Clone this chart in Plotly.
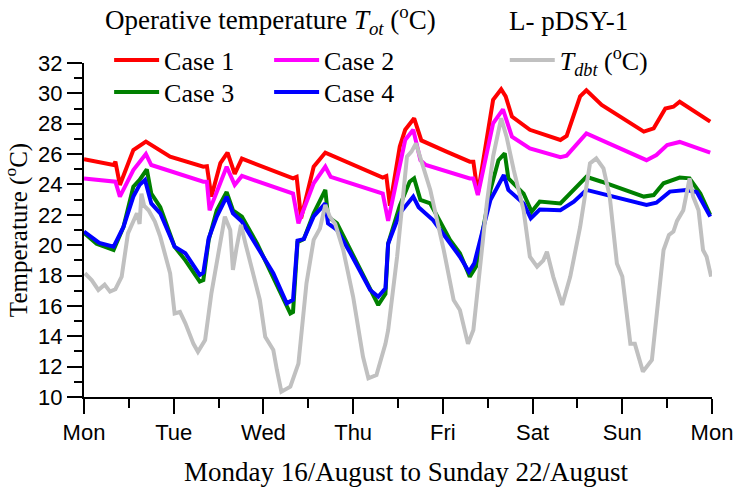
import plotly.graph_objects as go

# ---------------- data (x in days from Monday 00:00) ----------------
day_labels = ["Mon", "Tue", "Wed", "Thu", "Fri", "Sat", "Sun", "Mon"]
day_ticks = [0, 1, 2, 3, 4, 5, 6, 7]
half_day_ticks = [0.5, 1.5, 2.5, 3.5, 4.5, 5.5, 6.5]

case1_x = [0.00, 0.33, 0.35, 0.40, 0.55, 0.69, 0.96, 1.33, 1.37, 1.42, 1.52, 1.60, 1.68, 1.76,
           2.33, 2.37, 2.42, 2.56, 2.69, 3.33, 3.37, 3.41, 3.52, 3.58, 3.68, 3.76, 4.04, 4.30,
           4.34, 4.39, 4.56, 4.65, 4.70, 4.77, 4.97, 5.31, 5.38, 5.53, 5.60, 5.77, 6.24, 6.35,
           6.48, 6.57, 6.64, 6.98]
case1_y = [25.66, 25.28, 25.5, 23.97, 26.27, 26.82, 25.83, 25.17, 25.2, 23.2, 25.4, 26.1, 24.7, 25.7,
           24.4, 24.5, 21.77, 25.17, 26.1, 24.45, 24.55, 22.6, 26.5, 27.6, 28.36, 26.9, 26.16, 25.5,
           25.5, 23.4, 29.57, 30.27, 29.8, 28.47, 27.6, 26.93, 27.2, 29.8, 30.2, 29.24, 27.48, 27.7,
           29.0, 29.12, 29.45, 28.14]

case2_x = [0.00, 0.35, 0.40, 0.55, 0.69, 0.75, 1.33, 1.37, 1.40, 1.59, 1.68, 1.76, 2.33, 2.39,
           2.56, 2.69, 2.75, 3.33, 3.39, 3.58, 3.67, 3.75, 3.81, 4.30, 4.34, 4.39, 4.56, 4.67,
           4.77, 4.97, 5.31, 5.38, 5.60, 5.77, 6.27, 6.38, 6.50, 6.64, 6.98]
case2_y = [24.4, 24.18, 23.2, 24.95, 26.0, 25.28, 24.18, 24.18, 22.3, 25.17, 23.97, 24.56, 23.4, 21.44,
           24.08, 25.17, 24.5, 23.4, 21.6, 26.93, 27.6, 25.6, 25.28, 24.4, 24.4, 23.3, 28.03, 28.95,
           27.15, 26.38, 25.8, 25.9, 27.36, 26.93, 25.6, 25.94, 26.6, 26.8, 26.1]

case3_x = [0.00, 0.14, 0.33, 0.44, 0.55, 0.62, 0.70, 0.75, 0.85, 1.01, 1.13, 1.29, 1.33, 1.39,
           1.48, 1.59, 1.66, 1.76, 1.93, 2.11, 2.30, 2.33, 2.38, 2.45, 2.56, 2.69, 2.72, 2.82,
           2.97, 3.19, 3.28, 3.36, 3.39, 3.52, 3.63, 3.68, 3.75, 3.86, 4.08, 4.19, 4.30, 4.37,
           4.53, 4.62, 4.69, 4.73, 4.90, 4.99, 5.08, 5.31, 5.46, 5.60, 5.77, 6.24, 6.35, 6.46,
           6.64, 6.75, 6.87, 6.98]
case3_y = [20.82, 20.1, 19.68, 21.2, 23.85, 24.3, 25.0, 23.4, 22.5, 19.9, 19.0, 17.6, 17.7, 20.35,
           22.3, 23.5, 22.3, 21.88, 20.1, 17.93, 15.5, 15.6, 20.2, 20.4, 22.1, 23.64, 21.88, 21.44,
           19.68, 17.05, 16.06, 16.8, 20.1, 22.6, 24.18, 24.4, 22.98, 22.75, 20.35, 19.47, 17.93, 18.6,
           23.64, 25.6, 26.05, 24.4, 23.4, 22.2, 22.87, 22.75, 23.64, 24.5, 24.18, 23.2, 23.3, 24.08,
           24.45, 24.4, 23.4, 22.0]

case4_x = [0.00, 0.17, 0.33, 0.44, 0.55, 0.62, 0.68, 0.75, 0.85, 1.01, 1.13, 1.29, 1.33, 1.39,
           1.48, 1.59, 1.66, 1.76, 1.93, 2.11, 2.26, 2.33, 2.38, 2.45, 2.56, 2.69, 2.72, 2.82,
           2.97, 3.19, 3.28, 3.36, 3.39, 3.52, 3.67, 3.73, 3.89, 4.08, 4.19, 4.29, 4.35, 4.53,
           4.68, 4.73, 4.90, 4.98, 5.08, 5.31, 5.46, 5.60, 5.77, 6.27, 6.38, 6.53, 6.71, 6.83, 6.98]
case4_y = [20.9, 20.15, 19.9, 21.2, 23.2, 23.97, 24.3, 22.75, 22.1, 19.9, 19.47, 18.04, 18.2, 20.45,
           21.88, 23.2, 22.1, 21.55, 19.9, 18.15, 16.17, 16.4, 20.3, 20.4, 21.9, 22.75, 21.44, 21.0,
           19.47, 17.05, 16.6, 17.16, 20.1, 22.1, 23.2, 22.5, 21.66, 20.1, 19.24, 18.25, 18.8, 22.98,
           24.62, 23.64, 22.75, 21.77, 22.35, 22.3, 22.87, 23.64, 23.4, 22.65, 22.8, 23.53, 23.64, 23.5, 21.88]

tdbt_x = [0.01, 0.085, 0.16, 0.23, 0.29, 0.35, 0.42, 0.49, 0.59, 0.62, 0.64, 0.67, 0.72, 0.79, 0.85,
          0.96, 1.01, 1.07, 1.13, 1.22, 1.27, 1.35, 1.42, 1.50, 1.57, 1.63, 1.66, 1.70, 1.75, 1.80,
          1.89, 1.96, 2.02, 2.11, 2.15, 2.20, 2.30, 2.39, 2.48, 2.56, 2.63, 2.69, 2.74, 2.80, 2.89,
          3.00, 3.11, 3.17, 3.26, 3.30, 3.36, 3.39, 3.49, 3.60, 3.65, 3.70, 3.76, 3.86, 4.01, 4.12,
          4.19, 4.28, 4.34, 4.41, 4.49, 4.56, 4.65, 4.71, 4.79, 4.90, 4.97, 5.05, 5.12, 5.16, 5.23,
          5.33, 5.42, 5.53, 5.64, 5.71, 5.79, 5.86, 5.94, 6.00, 6.09, 6.14, 6.18, 6.23, 6.33, 6.38,
          6.46, 6.52, 6.57, 6.61, 6.68, 6.75, 6.79, 6.85, 6.90, 6.94, 6.99]
tdbt_y = [18.15, 17.7, 17.05, 17.4, 16.94, 17.1, 17.93, 20.78, 22.1, 21.4, 23.4, 22.6, 22.3, 21.55, 20.56,
          18.15, 15.5, 15.6, 14.85, 13.5, 12.98, 13.75, 16.83, 19.68, 21.88, 21.0, 18.37, 19.8, 21.33, 20.1,
          18.15, 16.39, 13.97, 13.1, 11.78, 10.35, 10.68, 12.2, 17.5, 20.35, 21.1, 22.65, 21.88, 21.4, 19.68,
          16.6, 12.65, 11.23, 11.45, 12.2, 13.5, 14.4, 19.24, 25.83, 26.16, 26.7, 25.6, 23.64, 19.68, 16.39,
          15.73, 13.5, 14.41, 18.58, 22.75, 25.83, 28.36, 27.15, 24.95, 22.3, 19.24, 18.58, 19.0, 19.57, 17.93,
          16.06, 17.93, 21.2, 25.39, 25.72, 25.06, 23.2, 18.8, 17.93, 13.5, 13.5, 12.65, 11.67, 12.44, 15.29,
          19.68, 20.67, 20.9, 21.6, 22.3, 24.4, 23.2, 22.3, 19.68, 19.24, 17.93]

SERIF = "Liberation Serif, Times New Roman, serif"
SANS = "Liberation Sans, Arial, sans-serif"

fig = go.Figure()
fig.add_trace(go.Scatter(x=case1_x, y=case1_y, mode="lines", name="Case 1",
                         line=dict(color="#ff0000", width=4), legend="legend"))
fig.add_trace(go.Scatter(x=case2_x, y=case2_y, mode="lines", name="Case 2",
                         line=dict(color="#ff00ff", width=4), legend="legend"))
fig.add_trace(go.Scatter(x=case3_x, y=case3_y, mode="lines", name="Case 3",
                         line=dict(color="#008000", width=4), legend="legend2"))
fig.add_trace(go.Scatter(x=case4_x, y=case4_y, mode="lines", name="Case 4",
                         line=dict(color="#0000ff", width=4), legend="legend2"))
fig.add_trace(go.Scatter(x=tdbt_x, y=tdbt_y, mode="lines",
                         name="<i>T</i><sub><i>dbt</i></sub> (<sup>o</sup>C)",
                         line=dict(color="#c0c0c0", width=4), legend="legend3"))

leg_common = dict(orientation="h", xanchor="left", yanchor="middle",
                  font=dict(family=SERIF, size=26, color="black"),
                  bgcolor="rgba(0,0,0,0)", borderwidth=0,
                  entrywidth=100, entrywidthmode="pixels", itemwidth=45)

fig.update_layout(
    width=736, height=492,
    margin=dict(l=84, r=24, t=63, b=95, autoexpand=False),
    paper_bgcolor="white", plot_bgcolor="white",
    showlegend=True,
    legend=dict(x=0.040, y=1.009, **leg_common),
    legend2=dict(x=0.040, y=0.913, **leg_common),
    legend3=dict(x=0.670, y=1.009, **leg_common),
    xaxis=dict(range=[0, 7], tickmode="array", tickvals=day_ticks, ticktext=day_labels,
               ticks="outside", ticklen=15, tickwidth=2, tickcolor="black",
               minor=dict(tickmode="array", tickvals=half_day_ticks, ticks="outside",
                          ticklen=9, tickwidth=2, tickcolor="black"),
               showline=True, linewidth=2, linecolor="black", showgrid=False, zeroline=False,
               automargin=False,
               tickfont=dict(family=SANS, size=22, color="black")),
    yaxis=dict(range=[10, 32], dtick=2, tick0=10,
               ticks="outside", ticklen=15, tickwidth=2, tickcolor="black",
               minor=dict(dtick=1, ticks="outside", ticklen=8, tickwidth=2, tickcolor="black"),
               showline=True, linewidth=2, linecolor="black", showgrid=False, zeroline=False,
               automargin=False,
               tickfont=dict(family=SANS, size=22, color="black"),
               title=dict(text="Temperature (<sup>o</sup>C)",
                          font=dict(family=SERIF, size=25, color="black"))),
    annotations=[
        dict(text="Operative temperature <i>T</i><sub><i>ot</i></sub> (<sup>o</sup>C)",
             xref="paper", yref="paper", x=0.030, y=1.128, xanchor="left", yanchor="middle",
             showarrow=False, font=dict(family=SERIF, size=27, color="black")),
        dict(text="L- pDSY-1", xref="paper", yref="paper", x=0.674, y=1.126,
             xanchor="left", yanchor="middle", showarrow=False,
             font=dict(family=SERIF, size=27, color="black")),
        dict(text="Monday 16/August to Sunday 22/August",
             xref="paper", yref="paper", x=0.513, y=-0.225, xanchor="center", yanchor="middle",
             showarrow=False, font=dict(family=SERIF, size=27, color="black")),
    ],
)

fig.write_html("out.html")
